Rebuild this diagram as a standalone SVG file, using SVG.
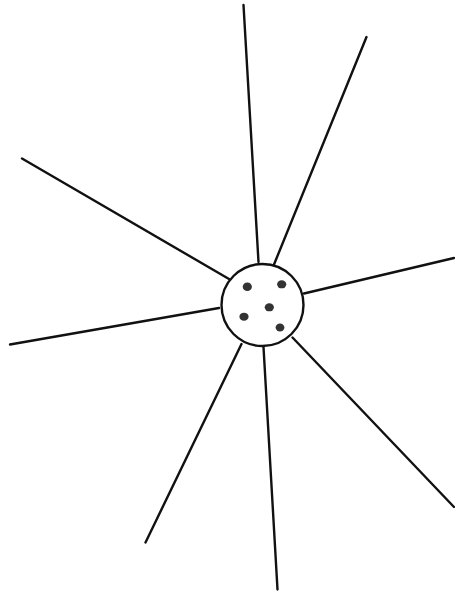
<svg xmlns="http://www.w3.org/2000/svg" width="455" height="594" viewBox="0 0 455 594">
<style>
.spoke{stroke:#111;stroke-width:2.4;stroke-linecap:round;fill:none}
.hub{fill:#fff;stroke:#111;stroke-width:2.4}
.dot{fill:#333}
</style>
<rect width="455" height="594" fill="#fff"/>
<g id="connectors">
<line class="spoke" x1="243.5" y1="5" x2="258.5" y2="262"/>
<line class="spoke" x1="366.5" y1="37" x2="274" y2="264.5"/>
<line class="spoke" x1="454" y1="258" x2="304" y2="293.5"/>
<line class="spoke" x1="292.5" y1="337.5" x2="454" y2="507"/>
<line class="spoke" x1="263.5" y1="347" x2="277.5" y2="589.5"/>
<line class="spoke" x1="241.5" y1="344" x2="145.5" y2="542.5"/>
<line class="spoke" x1="219" y1="308" x2="10" y2="344.5"/>
<line class="spoke" x1="22" y1="158.5" x2="229" y2="279"/>
</g>
<g id="hub">
<circle class="hub" cx="262.5" cy="305" r="41"/>
<ellipse class="dot" cx="247.3" cy="286.7" rx="4.6" ry="4.3"/>
<ellipse class="dot" cx="281.7" cy="284.3" rx="4.6" ry="4"/>
<ellipse class="dot" cx="269.3" cy="307.3" rx="4.6" ry="4"/>
<ellipse class="dot" cx="244" cy="316.7" rx="4.6" ry="4"/>
<ellipse class="dot" cx="280" cy="327.5" rx="4.4" ry="4"/>
</g>
</svg>
